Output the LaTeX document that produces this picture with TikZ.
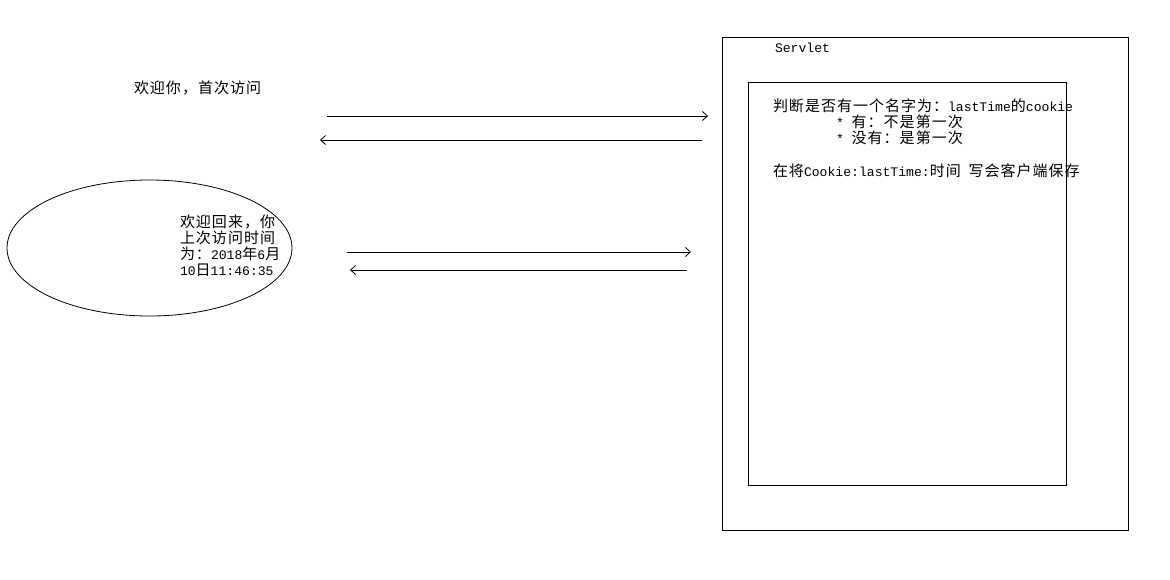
\documentclass[tikz,border=0pt]{standalone}
\usepackage{fontspec}
\setmonofont{Liberation Mono}
\newfontfamily\cjkfont[LetterSpace=6.7]{Noto Sans CJK SC}
\usetikzlibrary{arrows.meta,shapes.geometric}
\newcommand\mycjk[1]{{\cjkfont\fontsize{15}{16}\selectfont #1}}
\newcommand\mytt[1]{{\ttfamily\fontsize{13.1}{16}\selectfont #1}}
\begin{document}
\begin{tikzpicture}[x=1pt,y=-1pt,
  box/.style={draw,line width=0.8pt,inner sep=0pt,outer sep=0pt,anchor=north west},
  txt/.style={inner sep=0pt,outer sep=0pt,anchor=west,align=left,font=\fontsize{14}{16}\selectfont},
  flow/.style={line width=0.8pt,-{Straight Barb[length=5pt,width=9pt]}}]
\useasboundingbox (0,0) rectangle (1170,579);
\fill[white] (0,0) rectangle (1170,579);
% Servlet boxes
\node[box,minimum width=406pt,minimum height=493pt] (servlet) at (722,37) {};
\node[box,minimum width=318pt,minimum height=403pt] (logic) at (748,82) {};
\node[txt] (servletlabel) at (775,48) {\mytt{Servlet}};
\node[txt] (check) at (773,122) {\mycjk{判断是否有一个名字为：}\mytt{lastTime}\mycjk{的}\mytt{cookie}\\
\hspace*{63pt}\mytt{* }\mycjk{有：不是第一次}\\
\hspace*{63pt}\mytt{* }\mycjk{没有：是第一次}};
\node[txt] (write) at (773,171) {\mycjk{在将}\mytt{Cookie:lastTime:}\mycjk{时间}\mytt{ }\mycjk{写会客户端保存}};
% left side
\node[txt] (first) at (134,88) {\mycjk{欢迎你，首次访问}};
\node[draw,ellipse,line width=0.8pt,minimum width=285pt,minimum height=136pt,inner sep=0pt] (again) at (149.5,248) {};
\node[txt] (againtext) at (180,246) {\mycjk{欢迎回来，你}\\\mycjk{上次访问时间}\\\mycjk{为：}\mytt{2018}\mycjk{年}\mytt{6}\mycjk{月}\\\mytt{10}\mycjk{日}\mytt{11:46:35}};
% arrows
\coordinate (r1s) at (327,116); \coordinate (r1e) at (708,116);
\coordinate (l1s) at (702,140); \coordinate (l1e) at (320,140);
\coordinate (r2s) at (347,252); \coordinate (r2e) at (691,252);
\coordinate (l2s) at (687,270); \coordinate (l2e) at (350,270);
\draw[flow] (r1s) -- (r1e);
\draw[flow] (l1s) -- (l1e);
\draw[flow] (r2s) -- (r2e);
\draw[flow] (l2s) -- (l2e);
\end{tikzpicture}
\end{document}
